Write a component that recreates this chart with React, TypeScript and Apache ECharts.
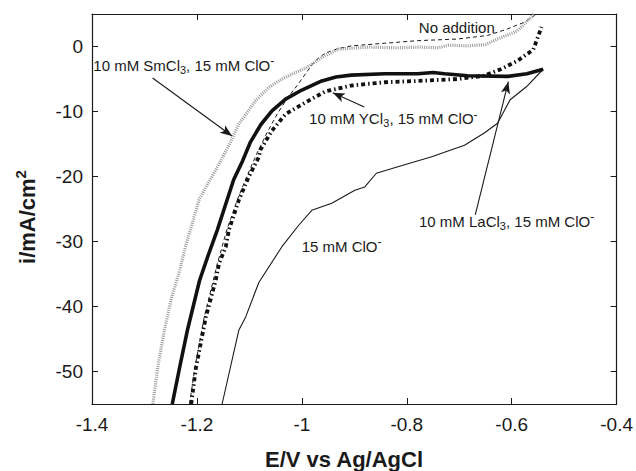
import React, { useEffect, useRef } from "react";
import * as echarts from "echarts";

const FONT = "'Liberation Sans', Arial, Helvetica, sans-serif";
const INK = "#1a1a1a";

// axis ranges / ticks
const xRange = [-1.4, -0.4];
const yRange = [-55, 5];
const yTicks = [0, -10, -20, -30, -40, -50];

// series: [E (V vs Ag/AgCl), i (mA/cm2)]
const noAddition = [
  [-1.214, -55], [-1.204, -49.5], [-1.186, -41.6], [-1.161, -33.4], [-1.143, -28.2],
  [-1.123, -23.6], [-1.105, -20], [-1.086, -16.5], [-1.066, -13.2], [-1.047, -10.4],
  [-1.028, -8.0], [-1.009, -6.0], [-0.993, -4.2], [-0.975, -2.2], [-0.955, -1.0],
  [-0.93, -0.3], [-0.905, 0.1], [-0.842, 0.5], [-0.779, 0.9], [-0.703, 1.15],
  [-0.646, 1.7], [-0.608, 2.7], [-0.577, 3.7], [-0.552, 5.0],
];

const smCl3 = [
  [-1.284, -55], [-1.274, -49], [-1.262, -43.6], [-1.248, -38.5], [-1.233, -34.5],
  [-1.221, -30.5], [-1.208, -27], [-1.196, -23.6], [-1.18, -21.2], [-1.164, -19],
  [-1.139, -15.2], [-1.12, -11.9], [-1.088, -8.3], [-1.063, -6.3], [-1.038, -5.0],
  [-1.012, -4.0], [-0.99, -3.2], [-0.975, -2.4], [-0.956, -1.4], [-0.93, -0.4],
  [-0.874, -0.1], [-0.82, -0.2], [-0.779, -0.1], [-0.74, -0.2], [-0.72, 0.2],
  [-0.684, 0.1], [-0.65, 0.3], [-0.627, 1.15], [-0.589, 2.4], [-0.557, 5.0],
];

const yCl3 = [
  [-1.211, -55], [-1.202, -49.5], [-1.183, -41.6], [-1.164, -35.9], [-1.158, -33.4],
  [-1.145, -30.8], [-1.139, -28.2], [-1.12, -23.6], [-1.101, -20], [-1.082, -17],
  [-1.079, -15.9], [-1.057, -12.95], [-1.031, -10.4], [-0.993, -8.6], [-0.955, -6.9],
  [-0.905, -6.0], [-0.842, -5.5], [-0.779, -5.3], [-0.703, -5.0], [-0.653, -4.5],
  [-0.621, -3.5], [-0.589, -2.2], [-0.559, -0.5], [-0.543, 3.0],
];

const laCl3 = [
  [-1.247, -55], [-1.232, -49], [-1.218, -43.6], [-1.195, -36], [-1.178, -32],
  [-1.161, -28.2], [-1.13, -20.5], [-1.113, -17.6], [-1.098, -14.7], [-1.078, -12],
  [-1.057, -9.9], [-1.031, -8.1], [-1.0, -6.7], [-0.962, -5.3], [-0.935, -4.7],
  [-0.906, -4.4], [-0.842, -4.2], [-0.779, -4.2], [-0.75, -4.0], [-0.728, -4.2],
  [-0.684, -4.5], [-0.608, -4.6], [-0.571, -4.2], [-0.54, -3.5],
];

const clO15 = [
  [-1.152, -55], [-1.12, -43.6], [-1.107, -41.6], [-1.082, -36.3], [-1.038, -30.8],
  [-1.006, -27.5], [-0.981, -25.2], [-0.943, -24.1], [-0.899, -22.1], [-0.88, -21.6],
  [-0.858, -19.5], [-0.817, -18.5], [-0.754, -17.0], [-0.69, -15.2], [-0.653, -13.35],
  [-0.627, -11.8], [-0.603, -8.2], [-0.572, -6.2], [-0.54, -3.5],
];

// annotation texts (left edge, vertical centre) in data coordinates
const labels = [
  { text: "{n|10 mM SmCl}{s|3}{n|, 15 mM ClO}{p|-}", at: [-1.3975, -2.85] },
  { text: "{n|No addition}", at: [-0.777, 3.0] },
  { text: "{n|10 mM YCl}{s|3}{n|, 15 mM ClO}{p|-}", at: [-0.9862, -11.15] },
  { text: "{n|10 mM LaCl}{s|3}{n|, 15 mM ClO}{p|-}", at: [-0.7767, -26.85] },
  { text: "{n|15 mM ClO}{p|-}", at: [-1.0004, -30.7] },
];

// annotation arrows: [from, to] in data coordinates
const arrows = [
  [[-1.2845, -4.85], [-1.133, -13.77]],
  [[-0.881, -9.31], [-0.941, -7.11]],
  [[-0.6695, -25.9], [-0.6064, -5.42]],
];

const rich = {
  n: { fontSize: 15, fontFamily: FONT, fill: INK, lineHeight: 20 },
  s: { fontSize: 11, fontFamily: FONT, fill: INK, lineHeight: 11, verticalAlign: "bottom" },
  p: { fontSize: 12, fontFamily: FONT, fill: INK, lineHeight: 11, verticalAlign: "top" },
};

export default function App() {
  const ref = useRef<HTMLDivElement>(null);

  useEffect(() => {
    if (!ref.current) return;
    const chart = echarts.init(ref.current, null, { renderer: "svg" });

    const lineBase = { type: "line", showSymbol: false, symbol: "none", smooth: false, silent: true, z: 2 };
    const axisCommon = {
      type: "value",
      axisLine: { show: true, onZero: false, lineStyle: { color: INK, width: 1.2 } },
      axisTick: { show: true, inside: true, length: 6, lineStyle: { color: INK, width: 1 } },
      splitLine: { show: false },
    };

    chart.setOption({
      animation: false,
      backgroundColor: "#fff",
      grid: { left: 92, right: 16, top: 14, bottom: 67, containLabel: false },
      xAxis: [
        {
          ...axisCommon,
          position: "bottom",
          min: xRange[0],
          max: xRange[1],
          interval: 0.2,
          axisLabel: { show: true, margin: 11, fontSize: 19, fontFamily: FONT, color: INK },
        },
        {
          ...axisCommon,
          position: "top",
          min: xRange[0],
          max: xRange[1],
          interval: 0.2,
          axisLabel: { show: false },
        },
      ],
      yAxis: [
        {
          ...axisCommon,
          position: "left",
          min: yRange[0],
          max: yRange[1],
          axisTick: { ...axisCommon.axisTick, customValues: yTicks },
          axisLabel: { show: true, margin: 9, fontSize: 19, fontFamily: FONT, color: INK, customValues: yTicks },
        },
        {
          ...axisCommon,
          position: "right",
          min: yRange[0],
          max: yRange[1],
          axisTick: { ...axisCommon.axisTick, customValues: yTicks },
          axisLabel: { show: false },
        },
      ],
      series: [
        {
          ...lineBase,
          name: "No addition",
          data: noAddition,
          lineStyle: { color: INK, width: 1, type: [4, 3] },
        },
        {
          ...lineBase,
          name: "10 mM SmCl3, 15 mM ClO-",
          data: smCl3,
          lineStyle: { color: "#9a9a9a", width: 3.2, type: [1, 1.2], cap: "butt" },
        },
        {
          ...lineBase,
          name: "15 mM ClO-",
          data: clO15,
          lineStyle: { color: INK, width: 1.1 },
          markLine: {
            silent: true,
            animation: false,
            symbol: ["none", "arrow"],
            symbolSize: [7, 12],
            label: { show: false },
            lineStyle: { color: INK, width: 1.1, type: "solid" },
            emphasis: { disabled: true },
            data: arrows.map(([a, b]) => [{ coord: a }, { coord: b }]),
          },
        },
        {
          ...lineBase,
          name: "10 mM YCl3, 15 mM ClO-",
          data: yCl3,
          lineStyle: { color: "#111", width: 3.8, type: [4, 3, 1.5, 3], cap: "butt" },
        },
        {
          ...lineBase,
          name: "10 mM LaCl3, 15 mM ClO-",
          data: laCl3,
          lineStyle: { color: "#111", width: 3.6 },
        },
      ],
    });

    const toPx = (p: number[]) => chart.convertToPixel({ xAxisIndex: 0, yAxisIndex: 0 }, p) as number[];

    const graphics: any[] = labels.map((l) => {
      const [px, py] = toPx(l.at);
      return {
        type: "text",
        x: px,
        y: py,
        silent: true,
        z: 10,
        style: { text: l.text, rich, x: 0, y: 0, align: "left", verticalAlign: "middle" },
      };
    });

    graphics.push({
      type: "text",
      x: 344,
      y: 459,
      silent: true,
      style: {
        text: "E/V vs Ag/AgCl",
        x: 0,
        y: 0,
        align: "center",
        verticalAlign: "middle",
        fontSize: 22,
        fontWeight: "bold",
        fontFamily: FONT,
        fill: INK,
      },
    });
    graphics.push({
      type: "text",
      x: 27,
      y: 217,
      rotation: Math.PI / 2,
      silent: true,
      style: {
        text: "{a|i/mA/cm}{b|2}",
        x: 0,
        y: 0,
        align: "center",
        verticalAlign: "middle",
        rich: {
          a: { fontSize: 22, fontWeight: "bold", fontFamily: FONT, fill: INK, lineHeight: 28 },
          b: { fontSize: 15, fontWeight: "bold", fontFamily: FONT, fill: INK, lineHeight: 15, verticalAlign: "top" },
        },
      },
    });

    chart.setOption({ graphic: graphics });

    return () => chart.dispose();
  }, []);

  return <div ref={ref} style={{ position: "absolute", left: 0, top: 0, width: 636, height: 471 }} />;
}
